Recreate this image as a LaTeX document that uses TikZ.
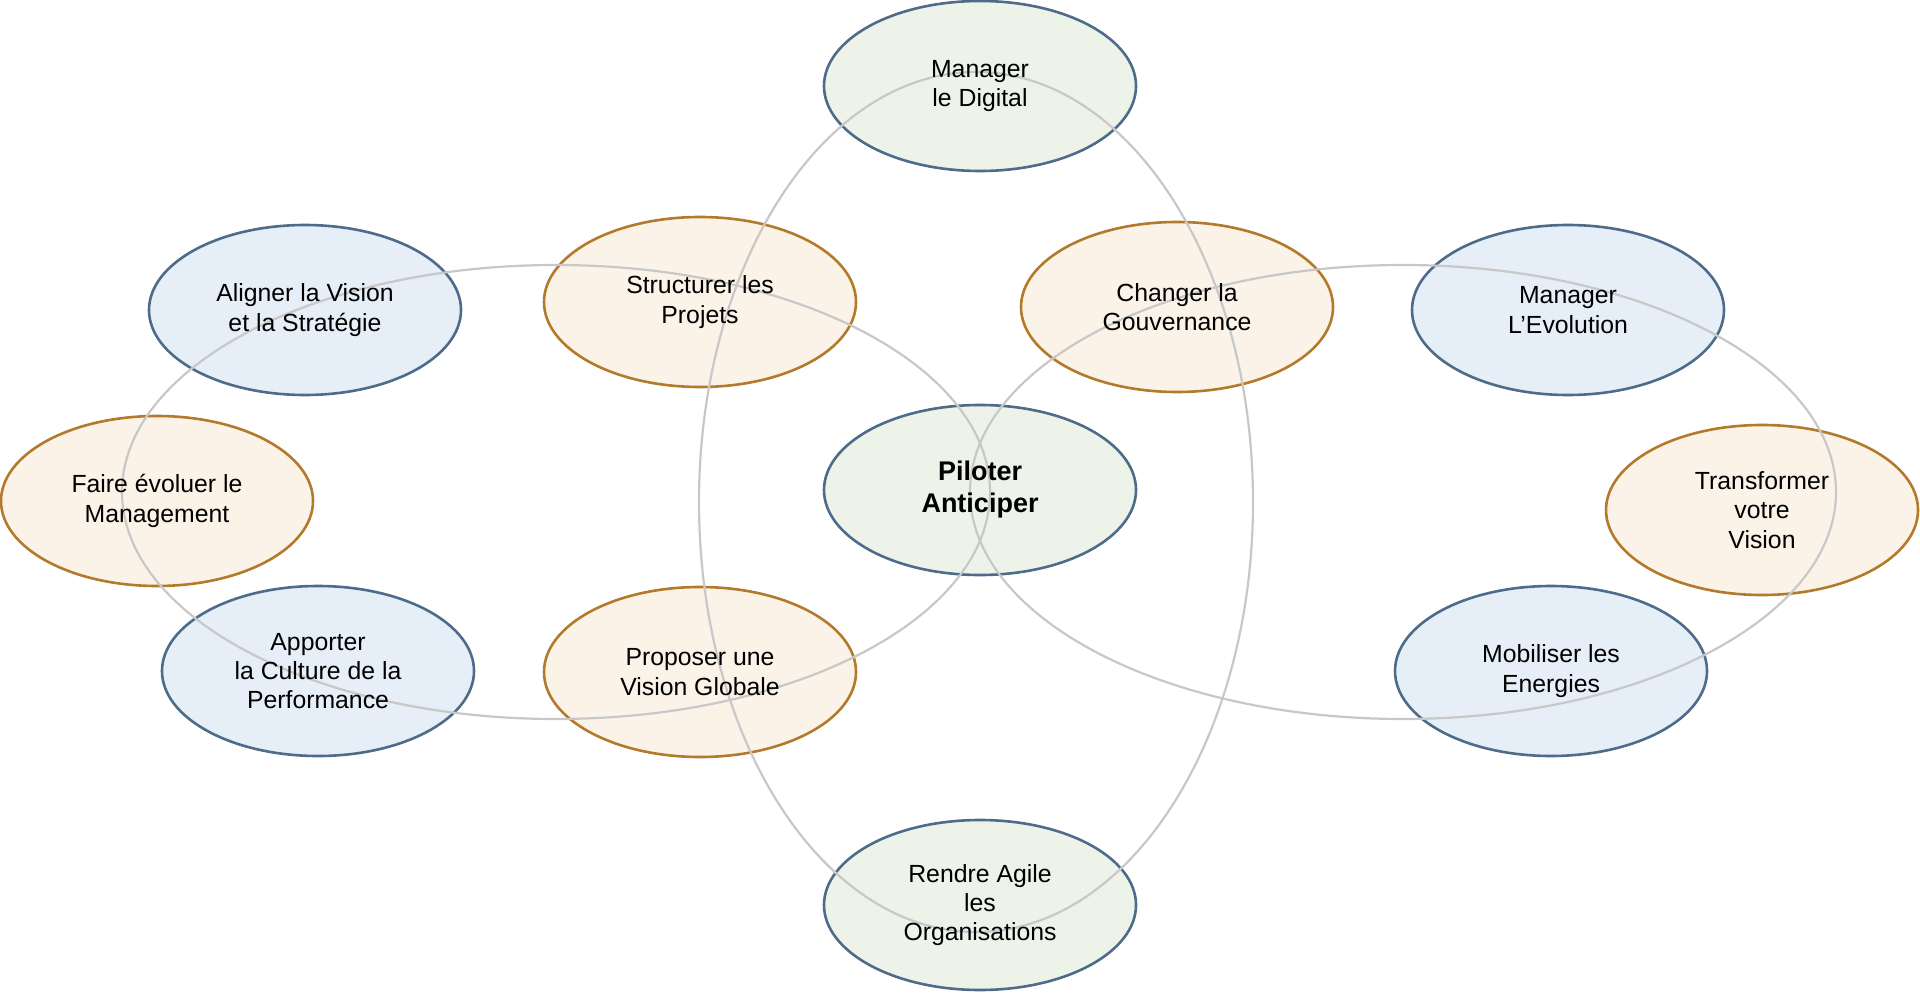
\documentclass[tikz,border=0pt]{standalone}
\usepackage{fontspec}
\setmainfont{Liberation Sans}
\usetikzlibrary{shapes.geometric}
\definecolor{bluestroke}{HTML}{4E6C89}
\definecolor{bluefill}{HTML}{E6EEF7}
\definecolor{orastroke}{HTML}{B37A2C}
\definecolor{orafill}{HTML}{FBF3E8}
\definecolor{grnfill}{HTML}{EEF3EA}
\definecolor{ringgray}{HTML}{C8C8C8}
\tikzset{
  oval/.style={ellipse, inner sep=0pt, minimum width=156pt, minimum height=85pt,
    line width=1.3pt},
  bluebox/.style={oval, draw=bluestroke, fill=bluefill},
  orabox/.style={oval, draw=orastroke, fill=orafill},
  grnbox/.style={oval, draw=bluestroke, fill=grnfill},
  txt/.style={align=center, inner sep=0pt, font=\fontsize{12.4}{14.6}\selectfont, text=black},
  boldtxt/.style={txt, font=\fontsize{13.5}{16}\selectfont\bfseries},
  ring/.style={draw=ringgray, line width=1.1pt},
}
\begin{document}
\begin{tikzpicture}[x=0.5pt, y=-0.5pt]
\useasboundingbox (0,0) rectangle (1920,994);
\fill[white] (0,0) rectangle (1920,994);
% ellipse shapes
\node[grnbox] (dig) at (980,86) {};
\node[bluebox] (ali) at (305,310) {};
\node[orabox] (str) at (700,302) {};
\node[orabox] (gov) at (1177,307) {};
\node[bluebox] (evo) at (1568,310) {};
\node[orabox] (man) at (157,501) {};
\node[grnbox] (pil) at (980,490) {};
\node[orabox] (tra) at (1762,510) {};
\node[bluebox] (app) at (318,671) {};
\node[orabox] (pro) at (700,672) {};
\node[bluebox] (mob) at (1551,671) {};
\node[grnbox] (agi) at (980,905) {};
% gray rings
\coordinate (cv) at (976,502);
\coordinate (cl) at (556,492);
\coordinate (cr) at (1403,492);
\draw[ring] (cv) ellipse [x radius=277, y radius=430];
\draw[ring] (cl) ellipse [x radius=434, y radius=227];
\draw[ring] (cr) ellipse [x radius=433, y radius=227];
% texts
\node[txt] (digt) at (dig) {Manager\\le Digital};
\node[txt] (alit) at (ali) {Aligner la Vision\\et la Stratégie};
\node[txt] (strt) at (str) {Structurer les\\Projets};
\node[txt] (govt) at (gov) {Changer la\\Gouvernance};
\node[txt] (evot) at (evo) {Manager\\L’Evolution};
\node[txt] (mant) at (man) {Faire évoluer le\\Management};
\node[boldtxt] (pilt) at (pil) {Piloter\\Anticiper};
\node[txt] (trat) at (tra) {Transformer\\votre\\Vision};
\node[txt] (appt) at (app) {Apporter\\la Culture de la\\Performance};
\node[txt] (prot) at (pro) {Proposer une\\Vision Globale};
\node[txt] (mobt) at (mob) {Mobiliser les\\Energies};
\node[txt] (agit) at (agi) {Rendre Agile\\les\\Organisations};
\end{tikzpicture}
\end{document}
